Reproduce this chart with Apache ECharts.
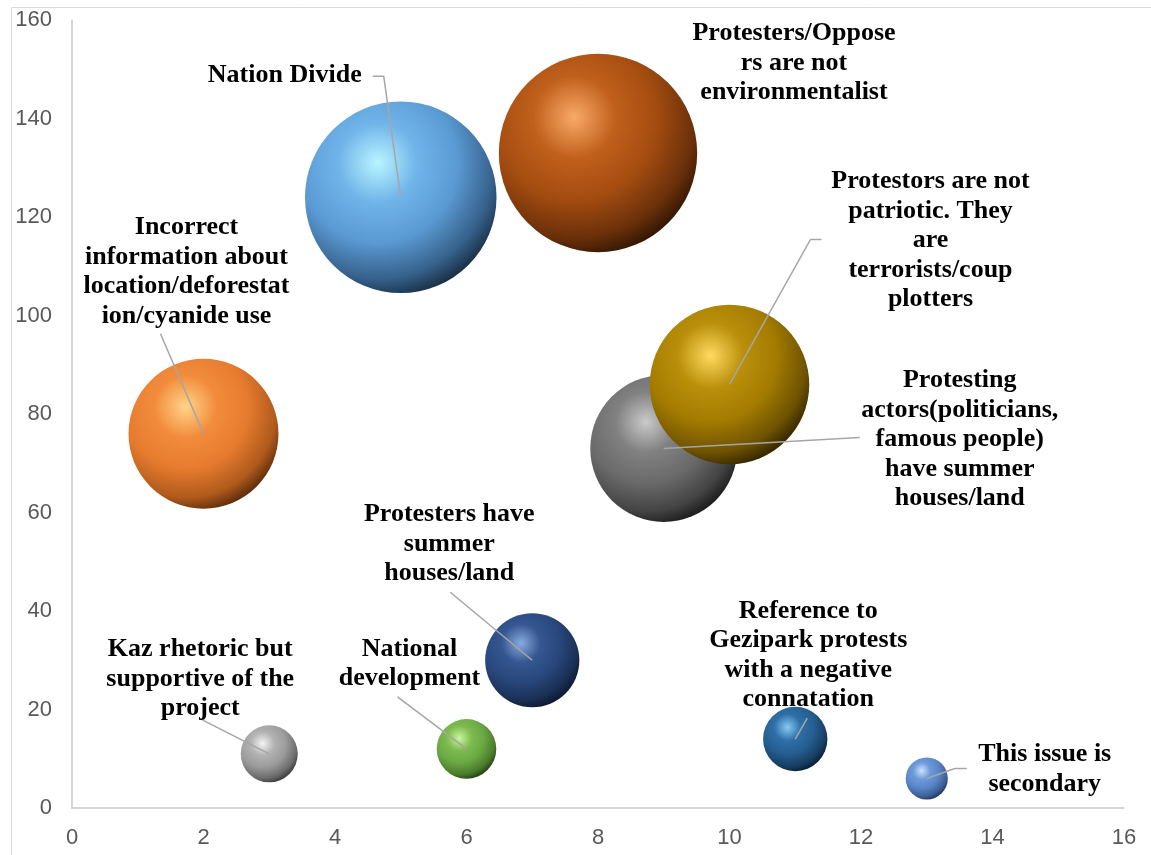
<!DOCTYPE html>
<html>
<head>
<meta charset="utf-8">
<title>Bubble chart</title>
<script src="https://cdn.jsdelivr.net/npm/echarts@6/dist/echarts.min.js"></script>
<style>
  html, body { margin: 0; padding: 0; background: #ffffff; }
  #chart { width: 1151px; height: 855px; }
</style>
</head>
<body>
<div id="chart"></div>
<script>
// Discourse themes: x position, y value and bubble size
const categories = [
  'Incorrect\ninformation about\nlocation/deforestat\nion/cyanide use',
  'Kaz rhetoric but\nsupportive of the\nproject',
  'Nation Divide',
  'National\ndevelopment',
  'Protesters have\nsummer\nhouses/land',
  'Protesters/Oppose\nrs are not\nenvironmentalist',
  'Protesting\nactors(politicians,\nfamous people)\nhave summer\nhouses/land',
  'Protestors are not\npatriotic. They\nare\nterrorists/coup\nplotters',
  'Reference to\nGezipark protests\nwith a negative\nconnatation',
  'This issue is\nsecondary'
];
const xValues = [2, 3, 5, 6, 7, 8, 9, 10, 11, 13];
const yValues = [76, 11, 124, 12, 30, 133, 73, 86, 14, 6];
const bubbleSizes = [76, 11, 124, 12, 30, 133, 73, 86, 14, 6];

const xTicks = { min: 0, max: 16, interval: 2 };
const yTicks = { min: 0, max: 160, interval: 20 };

// Sphere shading: highlight, light, base, shade, rim
const sphereColors = [
  ['#ffd48a', '#f28c3c', '#e67b2e', '#b05a1c', '#4a2207'],
  ['#f4f4f4', '#b2b2b2', '#9b9b9b', '#6c6c6c', '#303030'],
  ['#b8f5ff', '#70b4e9', '#5a9ad3', '#36618b', '#132436'],
  ['#caf59e', '#7ebc51', '#6aa843', '#4a7c2c', '#1c330f'],
  ['#88abdf', '#355691', '#28477c', '#1a2f55', '#091326'],
  ['#faa968', '#c0601c', '#a44c10', '#6b300a', '#261102'],
  ['#cacaca', '#818181', '#6a6a6a', '#444444', '#131313'],
  ['#ffda5e', '#b98f0b', '#a37b00', '#6e5200', '#261c00'],
  ['#88caf5', '#2f6fa7', '#245d90', '#173e62', '#07172a'],
  ['#c8e4ff', '#6e99d9', '#5a85c8', '#3b5f96', '#1b2c48']
];

// Label centre and leader-line bend points, as pixel offsets from each bubble centre
const labelOffsets = [
  [-17, -162], [-69, -75], [-116, -122], [-57, -85], [-83, -116],
  [196, -90], [296, -9], [201, -144], [13, -84], [118, -9]
];
const leaderPoints = [
  [[-43, -100]],
  [[-67, -34]],
  [[-28, -121], [-17, -121]],
  [[-69, -52]],
  [[-82, -68]],
  [],
  [[196, -11]],
  [[92, -145], [81, -145]],
  [[12, -21]],
  [[40, -10], [28, -10]]
];

function sphere(c) {
  return new echarts.graphic.RadialGradient(0.38, 0.32, 0.74, [
    { offset: 0, color: c[0] },
    { offset: 0.28, color: c[1] },
    { offset: 0.56, color: c[2] },
    { offset: 0.82, color: c[3] },
    { offset: 1, color: c[4] }
  ]);
}

const bubbleData = xValues.map((x, i) => ({
  value: [x, yValues[i], bubbleSizes[i]],
  itemStyle: { color: sphere(sphereColors[i]), opacity: 1 }
}));
const labelData = xValues.map((x, i) => [x, yValues[i], i]);

const chart = echarts.init(document.getElementById('chart'), null, { renderer: 'canvas' });

chart.setOption({
  animation: false,
  backgroundColor: '#ffffff',
  graphic: [{
    type: 'rect',
    shape: { x: 11.5, y: 7.5, width: 1200, height: 900 },
    style: { fill: null, stroke: '#d9d9d9', lineWidth: 1 },
    silent: true,
    z: -10
  }],
  grid: { left: 72, right: 27, top: 20, bottom: 47, containLabel: false },
  xAxis: {
    type: 'value',
    min: xTicks.min, max: xTicks.max, interval: xTicks.interval,
    axisLine: { show: true, lineStyle: { color: '#c9c9c9', width: 1.5 } },
    axisTick: { show: false },
    splitLine: { show: false },
    axisLabel: { color: '#595959', fontSize: 22, fontFamily: 'Liberation Sans', margin: 19 }
  },
  yAxis: {
    type: 'value',
    min: yTicks.min, max: yTicks.max, interval: yTicks.interval,
    axisLine: { show: true, lineStyle: { color: '#c9c9c9', width: 1.5 } },
    axisTick: { show: false },
    splitLine: { show: false },
    axisLabel: { color: '#595959', fontSize: 22, fontFamily: 'Liberation Sans', margin: 20 }
  },
  series: [
    {
      type: 'scatter',
      data: bubbleData,
      symbol: 'circle',
      symbolSize: (val) => 17.2 * Math.sqrt(val[2]),
      itemStyle: { opacity: 1 },
      clip: false,
      z: 2
    },
    {
      type: 'custom',
      data: labelData,
      clip: false,
      z: 3,
      encode: { x: 0, y: 1 },
      renderItem: function (params, api) {
        const i = api.value(2);
        const c = api.coord([api.value(0), api.value(1)]);
        const children = [];
        const bends = leaderPoints[i];
        if (bends.length) {
          const pts = bends.map(o => [c[0] + o[0], c[1] + o[1]]);
          pts.push([c[0], c[1]]);
          children.push({
            type: 'polyline',
            shape: { points: pts },
            style: { stroke: '#a6a6a6', lineWidth: 1.5, fill: null }
          });
        }
        const lo = labelOffsets[i];
        children.push({
          type: 'text',
          style: {
            text: categories[i],
            x: c[0] + lo[0],
            y: c[1] + lo[1],
            align: 'center',
            verticalAlign: 'middle',
            fontFamily: 'Liberation Serif',
            fontWeight: 'bold',
            fontSize: 26,
            lineHeight: 29.5,
            fill: '#000000'
          }
        });
        return { type: 'group', children: children };
      }
    }
  ]
});
</script>
</body>
</html>
